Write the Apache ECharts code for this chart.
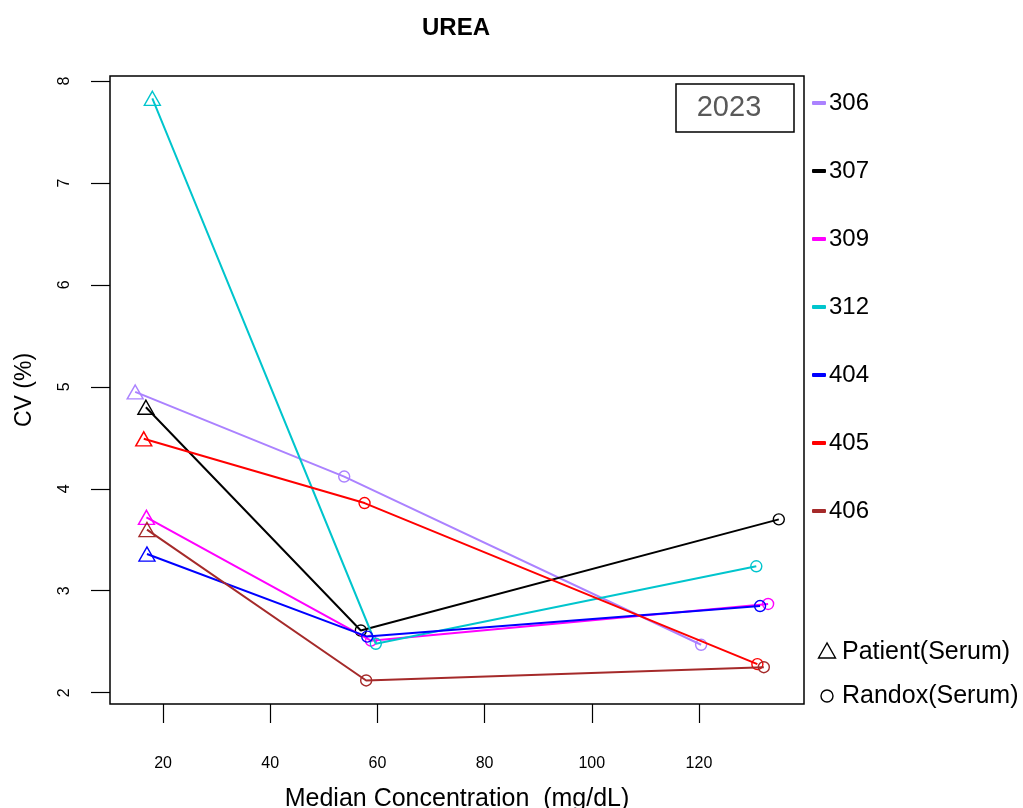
<!DOCTYPE html>
<html>
<head>
<meta charset="utf-8">
<script src="https://cdn.jsdelivr.net/npm/echarts@6/dist/echarts.min.js"></script>
<style>
html,body{margin:0;padding:0;background:#fff;}
#chart{width:1023px;height:808px;}
</style>
</head>
<body>
<div id="chart"></div>
<script>
// ---- data ----
const labs = ['306', '307', '309', '312', '404', '405', '406'];
const patientConc = [14.8, 16.8, 16.9, 18.0, 17.0, 16.4, 17.0];
const patientCV   = [4.95, 4.80, 3.72, 7.83, 3.36, 4.49, 3.60];
const randoxLowConc = [53.8, 56.9, 58.8, 59.7, 58.1, 57.6, 57.9];
const randoxLowCV   = [4.12, 2.61, 2.51, 2.48, 2.55, 3.86, 2.12];
const randoxHighConc = [120.4, 134.9, 132.9, 130.7, 131.4, 130.9, 132.1];
const randoxHighCV   = [2.47, 3.70, 2.87, 3.24, 2.85, 2.28, 2.25];
const xTicks = [20, 40, 60, 80, 100, 120];
const yTicks = [2, 3, 4, 5, 6, 7, 8];
const yearLabel = '2023';

// ---- styles ----
const colors = ['#AB82FF', '#000000', '#FF00FF', '#00C5CD', '#0000FF', '#FF0000', '#A52A2A'];
const sans = '"Liberation Sans", Arial, sans-serif';

const series = labs.map((lab, i) => ({
  name: lab,
  type: 'line',
  z: 2 + i,
  silent: true,
  animation: false,
  showAllSymbol: true,
  lineStyle: { color: colors[i], width: 2 },
  itemStyle: { color: 'transparent', borderColor: colors[i], borderWidth: 1.4 },
  data: [
    { value: [patientConc[i], patientCV[i]], symbol: 'triangle', symbolSize: [16, 14] },
    { value: [randoxLowConc[i], randoxLowCV[i]], symbol: 'circle', symbolSize: 11 },
    { value: [randoxHighConc[i], randoxHighCV[i]], symbol: 'circle', symbolSize: 11 }
  ]
}));

const chart = echarts.init(document.getElementById('chart'), null, { renderer: 'canvas' });
chart.setOption({
  backgroundColor: '#ffffff',
  animation: false,
  title: {
    text: 'UREA',
    left: 451, top: 11, textAlign: 'center',
    textStyle: { fontFamily: sans, fontWeight: 'bold', fontSize: 24, color: '#000' }
  },
  grid: {
    left: 110, right: 219, top: 76, bottom: 104,
    outerBoundsMode: 'none', containLabel: false,
    show: true, borderColor: '#000', borderWidth: 1.5, backgroundColor: 'transparent'
  },
  xAxis: {
    type: 'value', min: 10.1, max: 139.6,
    axisLine: { show: false },
    splitLine: { show: false },
    axisTick: { show: true, inside: false, length: 19, customValues: xTicks, lineStyle: { color: '#000', width: 1.2 } },
    axisLabel: { customValues: xTicks, margin: 52, fontFamily: sans, fontSize: 16, color: '#000' },
    name: 'Median Concentration  (mg/dL)', nameLocation: 'middle', nameGap: 83,
    nameTextStyle: { fontFamily: sans, fontSize: 25, color: '#000' }
  },
  yAxis: {
    type: 'value', min: 1.889, max: 8.049,
    axisLine: { show: false },
    splitLine: { show: false },
    axisTick: { show: true, inside: false, length: 19, customValues: yTicks, lineStyle: { color: '#000', width: 1.2 } },
    axisLabel: { customValues: yTicks, rotate: 90, margin: 37, fontFamily: sans, fontSize: 16, color: '#000' },
    name: 'CV (%)', nameLocation: 'middle', nameGap: 74, nameRotate: 90,
    nameTextStyle: { fontFamily: sans, fontSize: 23, color: '#000' }
  },
  legend: {
    orient: 'vertical', left: 812, top: 91, padding: 0,
    itemGap: 44, itemWidth: 14, itemHeight: 4, icon: 'roundRect',
    selectedMode: false,
    data: labs.map((l, i) => ({ name: l, itemStyle: { color: colors[i], borderWidth: 0 } })),
    textStyle: { fontFamily: sans, fontSize: 24, color: '#000', lineHeight: 24, padding: [0, 0, 0, -2] }
  },
  graphic: [
    { type: 'rect', shape: { x: 676, y: 84, width: 118, height: 48 }, style: { fill: '#fff', stroke: '#000', lineWidth: 1.5 }, z: 100 },
    { type: 'text', x: 729, y: 108, z: 101, style: { text: yearLabel, fill: '#595959', font: '29px "Liberation Sans", Arial, sans-serif', textAlign: 'center', textVerticalAlign: 'middle' } },
    { type: 'polygon', shape: { points: [[827, 643], [818.5, 658], [835.5, 658]] }, style: { fill: 'none', stroke: '#000', lineWidth: 1.4 } },
    { type: 'text', x: 842, y: 652, style: { text: 'Patient(Serum)', fill: '#000', font: '25px "Liberation Sans", Arial, sans-serif', textVerticalAlign: 'middle' } },
    { type: 'circle', shape: { cx: 827, cy: 696, r: 6 }, style: { fill: 'none', stroke: '#000', lineWidth: 1.4 } },
    { type: 'text', x: 842, y: 696, style: { text: 'Randox(Serum)', fill: '#000', font: '25px "Liberation Sans", Arial, sans-serif', textVerticalAlign: 'middle' } }
  ],
  series: series
});
</script>
</body>
</html>
